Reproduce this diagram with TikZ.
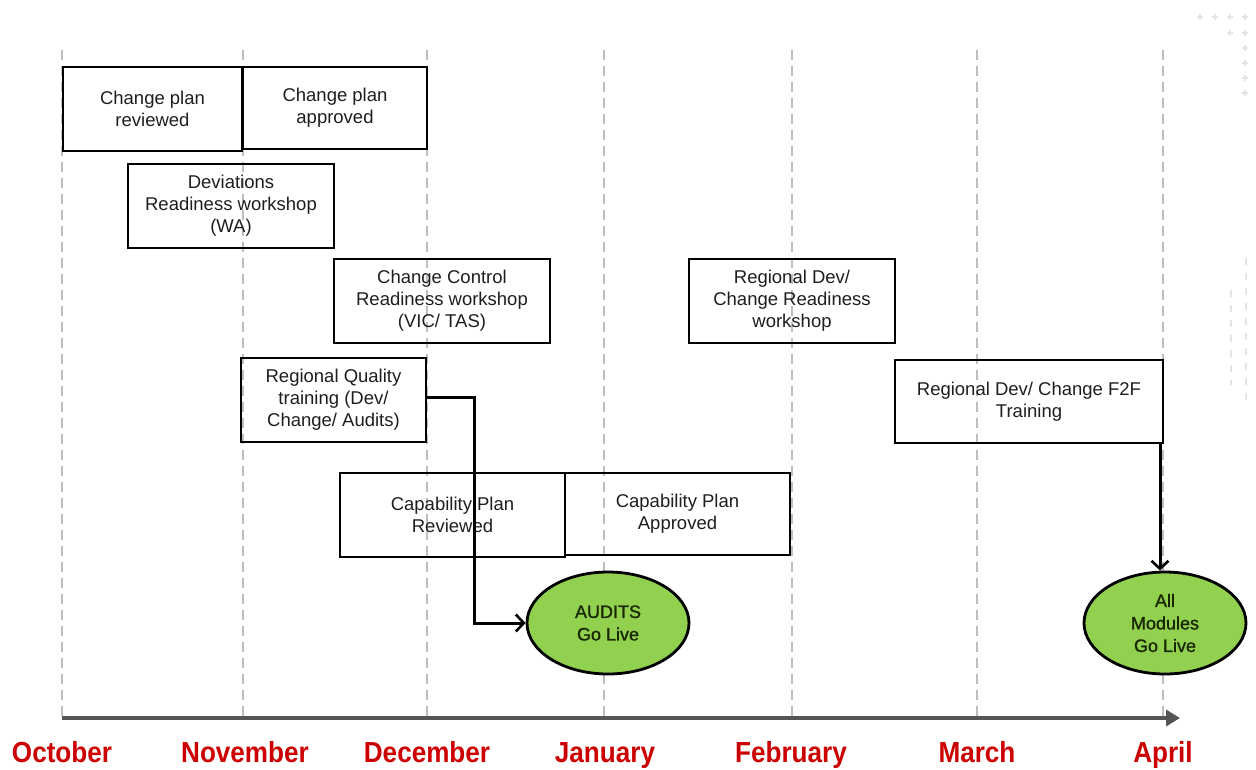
\documentclass[tikz,border=0pt]{standalone}
\usepackage{fontspec}
\setmainfont{Liberation Sans}
\newfontfamily\monthfont[FakeStretch=0.9]{Liberation Sans}
\newfontfamily\milefont[FakeBold=1.2]{Liberation Sans}
\usetikzlibrary{shapes.geometric,arrows.meta,calc}
\definecolor{gridgray}{RGB}{190,190,190}
\definecolor{axisgray}{RGB}{85,85,85}
\definecolor{monthred}{RGB}{204,0,0}
\definecolor{golive}{RGB}{146,208,80}
\definecolor{txt}{RGB}{30,30,30}
\definecolor{faint}{RGB}{228,228,228}
\tikzset{
  grid line/.style={draw=gridgray, line width=1.2pt, dash pattern=on 10pt off 6pt},
  taskbox/.style={draw=black, line width=1.5pt, rectangle, inner sep=0pt, align=center, text=txt,
    font=\fontsize{18.5}{22}\selectfont},
  milestone/.style={draw=black, line width=2.8pt, fill=golive, ellipse, inner sep=0pt,
    minimum width=162pt, minimum height=102pt, align=center, text={rgb,255:red,25;green,40;blue,0},
    font=\milefont\fontsize{18}{22.5}\selectfont},
  conn/.style={draw=black, line width=3pt, -{Straight Barb[length=8pt,width=17pt,line width=2.6pt]}},
  month/.style={text=monthred, font=\monthfont\bfseries\fontsize{29}{32}\selectfont, anchor=base},
  axisline/.style={draw=axisgray, line width=4pt, -{Triangle[length=14pt,width=16pt]}},
  plusmark/.style={draw=faint, line width=2pt},
}
\begin{document}
\begin{tikzpicture}[x=1pt,y=-1pt]
\useasboundingbox (0,0) rectangle (1256,769);
% faint decoration top right
\foreach \p in {(1200,17),(1215,17),(1230,17),(1245,17),(1230,33),(1245,33),(1245,48),(1245,63),(1245,78),(1245,93)}{
  \draw[plusmark] \p ++(-3,0) -- ++(6,0);
  \draw[plusmark] \p ++(0,-3) -- ++(0,6);
}
\draw[faint, line width=2pt, dash pattern=on 7pt off 8pt] (1246,258) -- (1246,402);
\draw[faint, line width=2pt, dash pattern=on 7pt off 8pt] (1231,290) -- (1231,385);
% month grid lines
\foreach \x/\n in {62/oct,243/nov,427/dec,604/jan,792/feb,977/mar,1163/apr}{
  \coordinate (top\n) at (\x,50);
  \coordinate (bot\n) at (\x,718);
  \draw[grid line] (top\n) -- (bot\n);
}
% axis
\coordinate (axend) at (1180,718);
\draw[axisline] (botoct) -- (axend);
% months
\node[month] (moct) at (62,762) {October};
\node[month] (mnov) at (245,762) {November};
\node[month] (mdec) at (427,762) {December};
\node[month] (mjan) at (605,762) {January};
\node[month] (mfeb) at (791,762) {February};
\node[month] (mmar) at (977,762) {March};
\node[month] (mapr) at (1163,762) {April};
% task boxes
\node[taskbox, minimum width=179pt, minimum height=84pt] (cpr) at (152.5,109) {Change plan\\reviewed};
\node[taskbox, minimum width=184pt, minimum height=82pt] (cpa) at (335,108) {Change plan\\approved};
\node[taskbox, minimum width=206pt, minimum height=84pt] (dev) at (231,206) {Deviations\\Readiness workshop\\(WA)};
\node[taskbox, minimum width=216pt, minimum height=84pt] (ccr) at (442,301) {Change Control\\Readiness workshop\\(VIC/ TAS)};
\node[taskbox, minimum width=206pt, minimum height=84pt] (rdc) at (792,301) {Regional Dev/\\Change Readiness\\workshop};
\node[taskbox, minimum width=185pt, minimum height=84pt] (rqt) at (333.5,400) {Regional Quality\\training (Dev/\\Change/ Audits)};
\node[taskbox, minimum width=268pt, minimum height=83pt] (f2f) at (1029,401.5) {Regional Dev/ Change F2F\\Training};
\node[taskbox, minimum width=225pt, minimum height=84pt] (capr) at (452.5,515) {Capability Plan\\Reviewed};
\node[taskbox, minimum width=225pt, minimum height=82pt] (capa) at (677.5,514) {Capability Plan\\Approved};
% milestones
\node[milestone] (audits) at (608,623) {AUDITS\\Go Live};
\node[milestone] (allmod) at (1165,623) {All\\Modules\\Go Live};
% connectors
\coordinate (bend) at (474,397);
\coordinate (f2fout) at (1160,443);
\draw[conn] (rqt.east |- bend) -- (bend) |- (audits.west);
\draw[conn] (f2fout) -- (f2fout |- allmod.north);
\end{tikzpicture}
\end{document}
